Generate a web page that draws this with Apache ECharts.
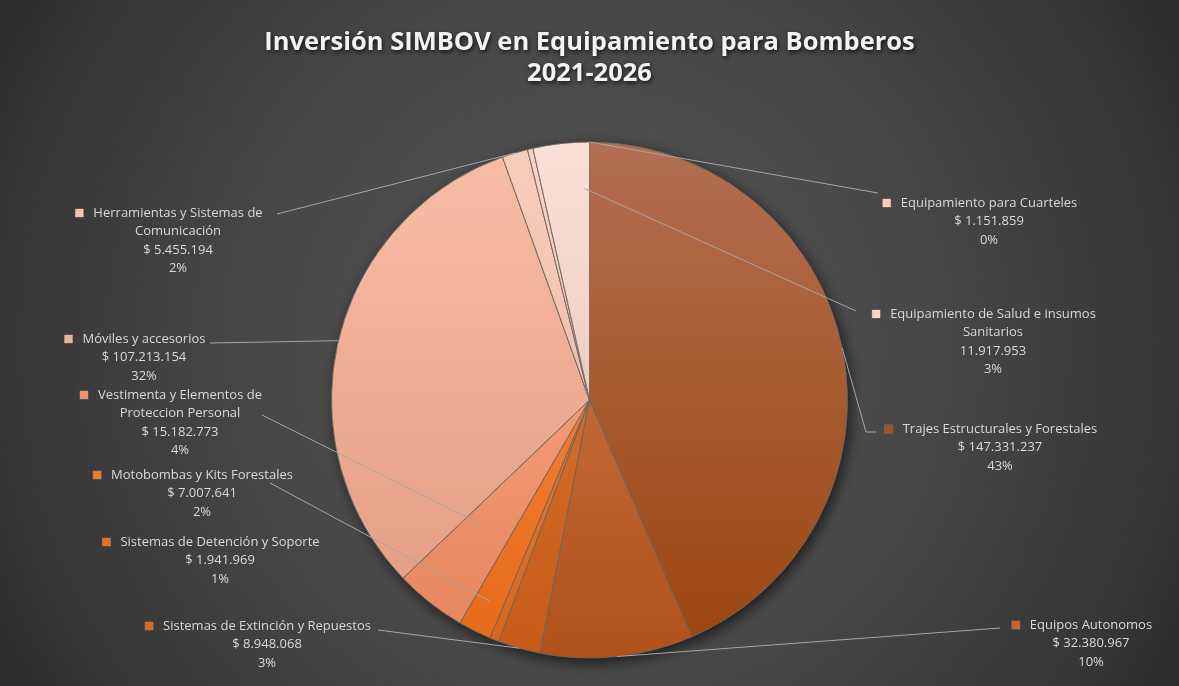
<!DOCTYPE html>
<html>
<head>
<meta charset="utf-8">
<script src="https://cdn.jsdelivr.net/npm/echarts/dist/echarts.min.js"></script>
<style>
    html, body { margin: 0; padding: 0; }
    body {
        width: 1179px; height: 686px; overflow: hidden;
        background: radial-gradient(circle farthest-corner at 50% 50%, #565656 0%, #4d4d4d 33%, #474747 50%, #363636 86%, #2b2b2b 100%);
    }
    #chart { width: 1179px; height: 686px; }
</style>
</head>
<body>
<div id="chart"></div>
<script>
// datos del grafico
var categorias = [
    'Trajes Estructurales y Forestales',
    'Equipos Autonomos',
    'Sistemas de Extinción y Repuestos',
    'Sistemas de Detención y Soporte',
    'Motobombas y Kits Forestales',
    'Vestimenta y Elementos de Proteccion Personal',
    'Móviles y accesorios',
    'Herramientas y Sistemas de Comunicación',
    'Equipamiento para Cuarteles',
    'Equipamiento de Salud e insumos Sanitarios'
];
// texto de las etiquetas (con cortes de linea como en el original)
var etiquetas = [
    'Trajes Estructurales y Forestales',
    'Equipos Autonomos',
    'Sistemas de Extinción y Repuestos',
    'Sistemas de Detención y Soporte',
    'Motobombas y Kits Forestales',
    'Vestimenta y Elementos de|Proteccion Personal',
    'Móviles y accesorios',
    'Herramientas y Sistemas de|Comunicación',
    'Equipamiento para Cuarteles',
    'Equipamiento de Salud e insumos|Sanitarios'
];
var montos = [147331237, 32380967, 8948068, 1941969, 7007641, 15182773, 107213154, 5455194, 1151859, 11917953];
var conSigno = [true, true, true, true, true, true, true, true, true, false];

(function () {
    var myChart = echarts.init(document.getElementById('chart'));

    var CX = 589.5, CY = 400, R = 258;

    // colores [arriba, abajo] de cada porcion
    var colores = [
        ['#b36f52', '#9b450d'],
        ['#d18152', '#b0511a'],
        ['#e08042', '#c75a16'],
        ['#ec8a42', '#d8661c'],
        ['#fa9048', '#e6691a'],
        ['#fcb092', '#e5845a'],
        ['#f8bea6', '#e29a7e'],
        ['#f9cdbc', '#e6b29e'],
        ['#fad5c7', '#e9bcaa'],
        ['#fbe0d6', '#dfbaac']
    ];
    var marcas = ['#a5521c', '#c8622a', '#d86a22', '#e47424', '#ee7a2a', '#f0946a', '#f2ae92', '#f5c2b0', '#f7cbbc', '#f8d6ca'];

    // posicion de etiquetas [centro x, centro de la primera linea y]
    var posEtiqueta = [
        [1000, 429], [1091, 625], [267, 626], [220, 542], [202, 475],
        [180, 395], [144, 339], [178, 213], [989, 203], [993, 314]
    ];
    // lineas guia: [fraccion de radio, giro en grados] del inicio y [quiebre, final]
    var inicioLinea = [[1, 0], [1, 0], [1, 0], [1, 0], [0.87, 0], [0.64, 3], [1, 0], [1, 0], [1, 13.2], [0.82, 5]];
    var finLinea = [
        [[866, 432], [876, 432]],
        [[1000, 628], [1000, 628]],
        [[378, 630], [378, 630]],
        [[300, 545], [300, 545]],
        [[270, 483], [270, 483]],
        [[262, 415], [262, 415]],
        [[210, 343], [210, 343]],
        [[277, 214], [277, 214]],
        [[878, 193], [878, 193]],
        [[856, 311], [856, 311]]
    ];

    var total = montos.reduce(function (a, b) { return a + b; }, 0);

    function miles(v) {
        return String(v).replace(/\B(?=(\d{3})+(?!\d))/g, '.');
    }

    var datos = categorias.map(function (c, i) {
        return {
            name: c,
            value: montos[i],
            itemStyle: {
                color: {
                    type: 'linear', x: 0, y: CY - R, x2: 0, y2: CY + R, global: true,
                    colorStops: [{ offset: 0, color: colores[i][0] }, { offset: 1, color: colores[i][1] }]
                }
            }
        };
    });

    // capa transparente encima, solo para etiquetas y lineas guia
    var datosEtiqueta = categorias.map(function (c, i) {
        return {
            name: c,
            value: montos[i],
            label: {
                rich: {
                    m: { width: 8, height: 8, backgroundColor: marcas[i], borderColor: 'rgba(255,255,255,0.25)', borderWidth: 0.5 }
                }
            },
            labelLine: { show: i !== 3 }
        };
    });

    var option = {
        title: {
            text: 'Inversión SIMBOV en Equipamiento para Bomberos\n2021-2026',
            left: 'center',
            top: 22,
            textStyle: {
                fontFamily: 'Open Sans',
                fontSize: 25.5,
                fontWeight: 'bold',
                color: '#f2f2f2',
                lineHeight: 31,
                textShadowColor: 'rgba(0,0,0,0.75)',
                textShadowBlur: 4,
                textShadowOffsetX: 1,
                textShadowOffsetY: 2
            }
        },
        series: [
            {
                // sombra del circulo completo
                type: 'pie',
                silent: true,
                z: 1,
                center: [CX, CY],
                radius: R,
                label: { show: false },
                labelLine: { show: false },
                itemStyle: {
                    color: '#4a4a4a',
                    shadowBlur: 14,
                    shadowColor: 'rgba(0,0,0,0.65)',
                    shadowOffsetX: 3,
                    shadowOffsetY: 4
                },
                data: [{ name: 'total', value: total }]
            },
            {
                name: 'Inversión',
                type: 'pie',
                z: 2,
                center: [CX, CY],
                radius: R,
                startAngle: 90,
                clockwise: true,
                itemStyle: {
                    borderColor: 'rgba(110,100,95,0.7)',
                    borderWidth: 0.8
                },
                label: { show: false },
                labelLine: { show: false },
                data: datos
            },
            {
                name: 'Etiquetas',
                type: 'pie',
                silent: true,
                z: 10,
                zlevel: 1,
                center: [CX, CY],
                radius: R,
                startAngle: 90,
                clockwise: true,
                percentPrecision: 0,
                avoidLabelOverlap: false,
                itemStyle: { color: 'rgba(0,0,0,0)', borderWidth: 0 },
                label: {
                    show: true,
                    position: 'outside',
                    fontFamily: 'Open Sans',
                    fontSize: 13,
                    lineHeight: 18.5,
                    color: '#d9d9d9',
                    formatter: function (p) {
                        var t = etiquetas[p.dataIndex].split('|');
                        var s = '{m|}{g|}' + t[0] + '{s|}';
                        if (t[1]) s += '\n' + t[1];
                        s += '\n' + (conSigno[p.dataIndex] ? '$ ' : '') + miles(p.value);
                        s += '\n' + p.percent + '%';
                        return s;
                    },
                    rich: {
                        g: { width: 10 },
                        s: { width: 18 }
                    }
                },
                labelLine: {
                    show: true,
                    lineStyle: { color: '#a6a6a6', width: 1 }
                },
                labelLayout: function (params) {
                    var i = params.dataIndex;
                    var acum = 0;
                    for (var k = 0; k < i; k++) acum += montos[k];
                    var ang = (acum + montos[i] / 2) / total * Math.PI * 2 + inicioLinea[i][1] * Math.PI / 180;
                    var f = inicioLinea[i][0];
                    var ini = [CX + f * R * Math.sin(ang), CY - f * R * Math.cos(ang)];
                    return {
                        x: posEtiqueta[i][0],
                        y: posEtiqueta[i][1] - 9.25,
                        align: 'center',
                        verticalAlign: 'top',
                        labelLinePoints: [ini, finLinea[i][0], finLinea[i][1]]
                    };
                },
                data: datosEtiqueta
            }
        ]
    };
    myChart.setOption(option);
    window.addEventListener('resize', function () {
        myChart.resize();
    });
})();
</script>
</body>
</html>
